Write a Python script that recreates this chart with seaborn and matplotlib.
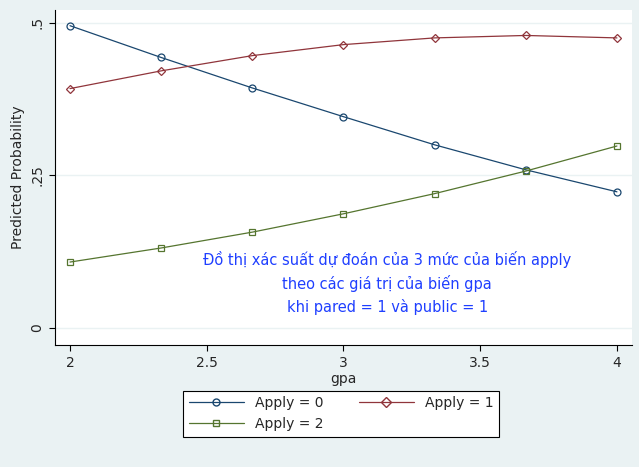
import matplotlib
matplotlib.use("Agg")
import matplotlib.pyplot as plt
import seaborn as sns
import pandas as pd
from matplotlib.lines import Line2D

gpa = [2.0, 2.333, 2.667, 3.0, 3.333, 3.667, 4.0]
apply0 = [0.495, 0.443, 0.393, 0.346, 0.300, 0.259, 0.223]
apply1 = [0.392, 0.421, 0.446, 0.464, 0.475, 0.479, 0.475]
apply2 = [0.108, 0.131, 0.157, 0.187, 0.220, 0.257, 0.298]
labels = ["Apply = 0", "Apply = 1", "Apply = 2"]
colors = ["#1a476f", "#90353b", "#55752f"]
markers = ["o", "D", "s"]

df = pd.DataFrame({"gpa": gpa * 3,
                   "prob": apply0 + apply1 + apply2,
                   "series": [l for l in labels for _ in gpa]})

sns.set_style("white")
bg = "#eaf2f3"
fig = plt.figure(figsize=(6.39, 4.67), dpi=100, facecolor=bg)
ax = fig.add_axes([0.086, 0.261, 0.903, 0.718])
ax.set_facecolor("white")

for lab, c, m in zip(labels, colors, markers):
    sub = df[df["series"] == lab]
    sns.lineplot(data=sub, x="gpa", y="prob", ax=ax, color=c, lw=0.9,
                 marker=m, markersize=5 if m != "D" else 4.5,
                 markerfacecolor="none", markeredgecolor=c, markeredgewidth=0.9,
                 legend=False)

ax.set_xlim(1.945, 4.055)
ax.set_ylim(-0.028, 0.521)
ax.set_xticks([2, 2.5, 3, 3.5, 4])
ax.set_xticklabels(["2", "2.5", "3", "3.5", "4"])
ax.set_yticks([0, 0.25, 0.5])
ax.set_yticklabels(["0", ".25", ".5"], rotation=90, va="center")
for yv in [0, 0.25, 0.5]:
    ax.axhline(yv, color=bg, lw=1, zorder=0)
ax.tick_params(axis="both", length=4, color="black", labelsize=10, direction="out")
ax.tick_params(axis="both", which="both", bottom=True, left=True)
ax.set_xlabel("gpa", fontsize=10, labelpad=2)
ax.set_ylabel("Predicted Probability", fontsize=10)
for s in ["top", "right"]:
    ax.spines[s].set_visible(False)
for s in ["left", "bottom"]:
    ax.spines[s].set_color("black")
    ax.spines[s].set_linewidth(0.8)

ax.text(3.16, 0.074, "Đồ thị xác suất dự đoán của 3 mức của biến apply\ntheo các giá trị của biến gpa\nkhi pared = 1 và public = 1",
        ha="center", va="center", color="#1f3fff", fontsize=10.5, linespacing=1.5)

handles = [Line2D([], [], color=c, marker=m, markerfacecolor="none", markeredgecolor=c,
                  lw=0.9, markersize=5) for c, m in zip(colors, markers)]
order = [0, 2, 1]
leg = fig.legend([handles[i] for i in order], [labels[i] for i in order],
                 loc="center", bbox_to_anchor=(0.534, 0.114), ncol=2,
                 frameon=True, fancybox=False, fontsize=10, handlelength=4,
                 columnspacing=2.5, edgecolor="black", framealpha=1)
leg.get_frame().set_facecolor("white")
leg.get_frame().set_linewidth(0.8)

fig.savefig("out.png", dpi=100, facecolor=bg)
